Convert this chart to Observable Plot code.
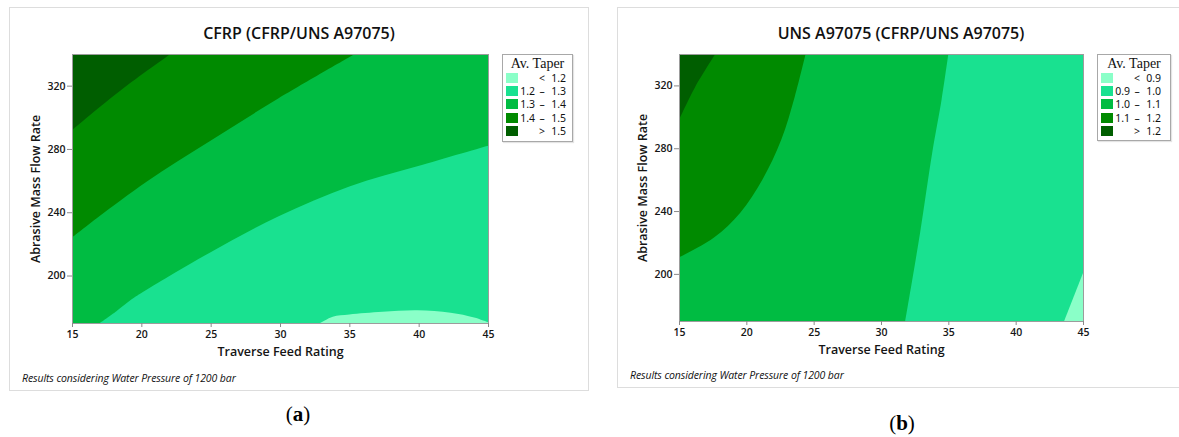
<!DOCTYPE html>
<html><head><meta charset="utf-8">
<script src="https://cdn.jsdelivr.net/npm/d3@7"></script>
<script src="https://cdn.jsdelivr.net/npm/@observablehq/plot@0.6"></script>
<style>
html,body{margin:0;padding:0;}
body{width:1179px;height:437px;overflow:hidden;background:#fff;position:relative;font-family:"Open Sans",sans-serif;}
.panel{position:absolute;border:1px solid #dddddd;box-sizing:border-box;}
.title{position:absolute;font-weight:600;font-size:16px;color:#111;transform:translate(-50%,-50%);white-space:nowrap;}
.chart{position:absolute;}
.caption{position:absolute;font-style:italic;font-size:10.5px;color:#111;transform:translateY(-50%);white-space:nowrap;letter-spacing:-0.1px;}
.sub{position:absolute;font-family:"Liberation Serif",serif;font-size:21px;color:#000;transform:translate(-50%,-50%);}
.sub b{font-weight:700;}
.legend{position:absolute;border:1px solid #a8a8a8;box-sizing:border-box;background:#fff;box-shadow:1px 1px 1px #e4e4e4;}
.legend .lt{font-family:"Liberation Serif",serif;font-size:14px;color:#111;text-align:center;height:16px;line-height:18px;}
.legend .row{display:flex;align-items:center;height:13.3px;font-family:"Noto Sans",sans-serif;font-size:10.5px;color:#111;}
.legend .sw{width:12px;height:10px;margin-left:3px;}
.legend .lo{width:17px;text-align:right;}
.legend .op{width:14px;text-align:center;}
.legend .hi{width:17px;text-align:right;}
.chart svg g[aria-label="x-axis label"] text,.chart svg g[aria-label="y-axis label"] text{font-size:12.5px;}
</style>
</head><body>
<div class="panel" style="left:9px;top:7px;width:580px;height:384px;"></div>
<div class="panel" style="left:617px;top:7px;width:568px;height:381px;"></div>
<div class="title" style="left:299px;top:33px;">CFRP (CFRP/UNS A97075)</div>
<div class="title" style="left:901px;top:33px;">UNS A97075 (CFRP/UNS A97075)</div>
<div id="chartA" class="chart" style="left:0px;top:40px;"></div>
<div id="chartB" class="chart" style="left:600px;top:40px;"></div>
<div id="legA" class="legend" style="left:502px;top:54px;width:71px;height:88px;"></div>
<div id="legB" class="legend" style="left:1097px;top:54px;width:74px;height:87px;"></div>
<div class="caption" style="left:22px;top:378px;">Results considering Water Pressure of 1200 bar</div>
<div class="caption" style="left:630px;top:375px;">Results considering Water Pressure of 1200 bar</div>
<div class="sub" style="left:298px;top:414px;">(<b>a</b>)</div>
<div class="sub" style="left:902px;top:423px;">(<b>b</b>)</div>
<script>
// ---- shared axes ----
const xDomain = [15, 45];
const yDomain = [170, 340];
const xTicks = [15, 20, 25, 30, 35, 40, 45];
const yTicks = [200, 240, 280, 320];
const xLabel = "Traverse Feed Rating";
const yLabel = "Abrasive Mass Flow Rate";
const palette = ["#8affc8", "#19e190", "#00bc42", "#008a00", "#005e00"];

// ---- (a) CFRP: Av. Taper bands and contour boundaries [feed, flow] ----
const bandsA = ["< 1.2", "1.2 – 1.3", "1.3 – 1.4", "1.4 – 1.5", "> 1.5"];
const a_1p5 = [[15, 292], [18.5, 317], [22.1, 340]];
const a_1p4 = [[15, 224], [16.9, 237], [20.4, 259.5], [24.9, 284.7], [29.9, 312], [35.4, 340]];
const a_1p3 = [[17, 170], [18.2, 177.5], [19.3, 185], [20, 189], [24.9, 214.3], [29.9, 237.4], [35, 256.3], [39.9, 269], [45, 282]];
const a_1p2 = [[32.9, 170], [33.8, 174], [35, 175.4], [37.4, 177.1], [39.9, 178], [42.3, 176.5], [44, 173.5], [45, 170.5]];

// ---- (b) UNS A97075: Av. Taper bands and contour boundaries [feed, flow] ----
const bandsB = ["< 0.9", "0.9 – 1.0", "1.0 – 1.1", "1.1 – 1.2", "> 1.2"];
const b_1p2 = [[15, 298], [16.2, 319], [17.7, 340]];
const b_1p1 = [[15, 210.5], [17.6, 223.2], [19.55, 239], [21.2, 260.1], [22.6, 285.5], [23.6, 312.9], [24.4, 340]];
const b_1p0 = [[31.8, 170], [32.9, 226], [33.8, 277], [34.5, 311], [35, 340]];
const b_0p9 = [[43.6, 170], [45, 200.5]];

const rows = (arr, band) => arr.map(([x, y]) => ({x, y, band}));
const curve = "catmull-rom";

function axes(labelOffsetY) {
  return [
    Plot.frame({stroke: "#9c9c9c"}),
    Plot.axisX({ticks: xTicks, tickSize: 4, tickPadding: 3, stroke: "#8a8a8a", fill: "#151515",
      fontWeight: 600, label: xLabel, labelAnchor: "center", labelOffset: 32, labelArrow: "none"}),
    Plot.axisY({ticks: yTicks, tickSize: 5, tickPadding: 2, stroke: "#8a8a8a", fill: "#151515",
      fontWeight: 600, label: yLabel, labelAnchor: "center", labelOffset: labelOffsetY, labelArrow: "none"})
  ];
}

const common = {
  height: 330,
  marginTop: 14,
  x: {domain: xDomain},
  y: {domain: yDomain},
  style: {fontFamily: "Open Sans, sans-serif", fontSize: "10.5px", color: "#151515", background: "transparent"}
};

const plotA = Plot.plot({
  ...common,
  width: 500, marginLeft: 72, marginRight: 12, marginBottom: 47,
  color: {type: "ordinal", domain: bandsA, range: palette},
  marks: [
    Plot.rect([{band: bandsA[2]}], {x1: xDomain[0], x2: xDomain[1], y1: yDomain[0], y2: yDomain[1], fill: "band"}),
    Plot.areaX(rows(a_1p4, bandsA[3]), {x1: xDomain[0], x2: "x", y: "y", fill: "band", curve, clip: true}),
    Plot.areaX(rows(a_1p5, bandsA[4]), {x1: xDomain[0], x2: "x", y: "y", fill: "band", curve, clip: true}),
    Plot.areaY(rows(a_1p3, bandsA[1]), {x: "x", y1: yDomain[0], y2: "y", fill: "band", curve, clip: true}),
    Plot.areaY(rows(a_1p2, bandsA[0]), {x: "x", y1: yDomain[0], y2: "y", fill: "band", curve, clip: true}),
    ...axes(41)
  ]
});

const plotB = Plot.plot({
  ...common,
  width: 495, marginLeft: 79, marginRight: 12, marginBottom: 49,
  color: {type: "ordinal", domain: bandsB, range: palette},
  marks: [
    Plot.rect([{band: bandsB[2]}], {x1: xDomain[0], x2: xDomain[1], y1: yDomain[0], y2: yDomain[1], fill: "band"}),
    Plot.areaX(rows(b_1p1, bandsB[3]), {x1: xDomain[0], x2: "x", y: "y", fill: "band", curve, clip: true}),
    Plot.areaX(rows(b_1p2, bandsB[4]), {x1: xDomain[0], x2: "x", y: "y", fill: "band", curve, clip: true}),
    Plot.areaX(rows(b_1p0, bandsB[1]), {x1: "x", x2: xDomain[1], y: "y", fill: "band", curve, clip: true}),
    Plot.areaX(rows(b_0p9, bandsB[0]), {x1: "x", x2: xDomain[1], y: "y", fill: "band", curve: "linear", clip: true}),
    ...axes(41)
  ]
});

document.getElementById("chartA").appendChild(plotA);
document.getElementById("chartB").appendChild(plotB);

function buildLegend(el, plot) {
  const sc = plot.scale("color");
  const t = document.createElement("div");
  t.className = "lt"; t.textContent = "Av. Taper";
  el.appendChild(t);
  sc.domain.forEach((lab, i) => {
    const parts = lab.split(" ");
    const [lo, op, hi] = parts.length === 3 ? parts : ["", parts[0], parts[1]];
    const r = document.createElement("div"); r.className = "row";
    const sw = document.createElement("div"); sw.className = "sw"; sw.style.background = sc.range[i];
    const a = document.createElement("span"); a.className = "lo"; a.textContent = lo;
    const b = document.createElement("span"); b.className = "op"; b.textContent = op;
    const c = document.createElement("span"); c.className = "hi"; c.textContent = hi;
    r.append(sw, a, b, c);
    el.appendChild(r);
  });
}
buildLegend(document.getElementById("legA"), plotA);
buildLegend(document.getElementById("legB"), plotB);
</script>
</body></html>
